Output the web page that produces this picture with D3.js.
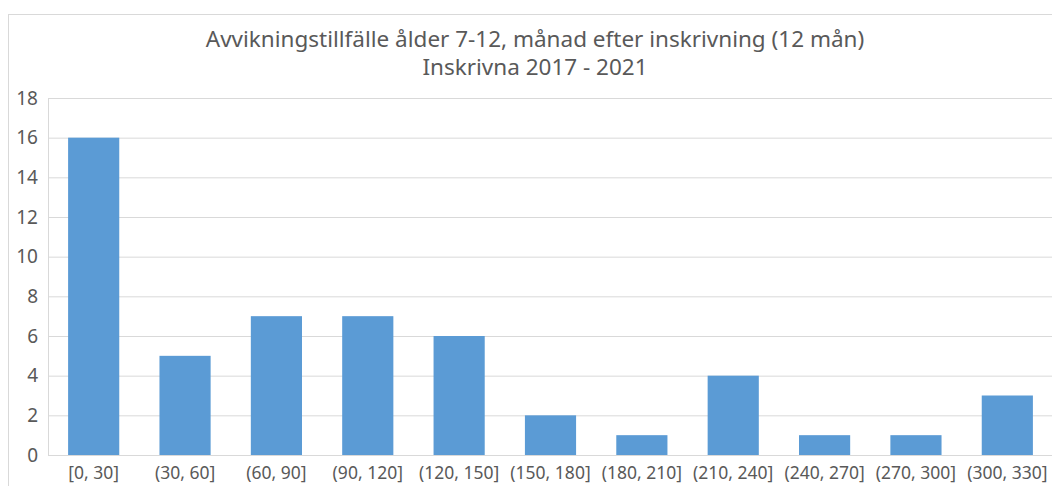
<!DOCTYPE html>
<html lang="sv">
<head>
<meta charset="UTF-8">
<script src="https://d3js.org/d3.v7.min.js"></script>
<title>Avvikningstillfälle</title>
<style>
    body { margin: 0; background: #fff; }
    svg { display: block; font-family: "Noto Sans", "Open Sans", sans-serif; }
    .tick text { fill: #595959; }
</style>
</head>
<body>
<div id="chart"></div>
<script>
    // data
    const categories = ["[0, 30]", "(30, 60]", "(60, 90]", "(90, 120]", "(120, 150]", "(150, 180]",
        "(180, 210]", "(210, 240]", "(240, 270]", "(270, 300]", "(300, 330]"];
    const counts = [16, 5, 7, 7, 6, 2, 1, 4, 1, 1, 3];
    const yTicks = [0, 2, 4, 6, 8, 10, 12, 14, 16, 18];
    const titleLines = ["Avvikningstillfälle ålder 7-12, månad efter inskrivning (12 mån)", "Inskrivna 2017 - 2021"];

    const W = 1052, H = 486;
    const margin = { top: 98, right: -1, bottom: 31, left: 48 };
    const width = W - margin.left - margin.right;
    const height = H - margin.top - margin.bottom;

    const svg = d3.select("#chart").append("svg")
        .attr("width", W)
        .attr("height", H);

    // chart area border
    svg.append("rect")
        .attr("x", 8.5).attr("y", 14.5)
        .attr("width", W + 10).attr("height", H + 10)
        .attr("fill", "none")
        .attr("stroke", "#d9d9d9");

    svg.append("text")
        .attr("text-anchor", "middle")
        .attr("fill", "#595959")
        .style("font-size", "22.5px")
        .selectAll("tspan")
        .data(titleLines)
        .join("tspan")
        .attr("x", 535)
        .attr("y", (d, i) => 47 + i * 28)
        .text(d => d);

    const g = svg.append("g")
        .attr("transform", `translate(${margin.left},${margin.top})`);

    const x = d3.scaleBand().domain(categories).range([0, width]).paddingInner(0.44).paddingOuter(0.22);
    const y = d3.scaleLinear().domain([0, 18]).range([height, 0]);

    // gridlines + y labels
    const yAxis = g.append("g")
        .call(d3.axisLeft(y).tickValues(yTicks).tickSize(-width).tickPadding(10));
    yAxis.select(".domain").remove();
    yAxis.selectAll(".tick line").attr("stroke", "#d9d9d9");
    yAxis.selectAll(".tick text").style("font-size", "19px");

    g.append("line")
        .attr("x1", 0.5).attr("x2", 0.5)
        .attr("y1", 0).attr("y2", height)
        .attr("stroke", "#d9d9d9");

    g.selectAll("rect.bar")
        .data(counts)
        .join("rect")
        .attr("class", "bar")
        .attr("x", (d, i) => x(categories[i]))
        .attr("y", d => y(d))
        .attr("width", x.bandwidth())
        .attr("height", d => height - y(d))
        .attr("fill", "#5b9bd5");

    const xAxis = g.append("g")
        .attr("transform", `translate(0,${height})`)
        .call(d3.axisBottom(x).tickSize(0).tickPadding(12));
    xAxis.select(".domain").attr("stroke", "#d9d9d9");
    xAxis.selectAll(".tick text").style("font-size", "17.5px");
    // d3 axes set font-family on the group; let it inherit from svg
    svg.selectAll("g").attr("font-family", null);
</script>
</body>
</html>
